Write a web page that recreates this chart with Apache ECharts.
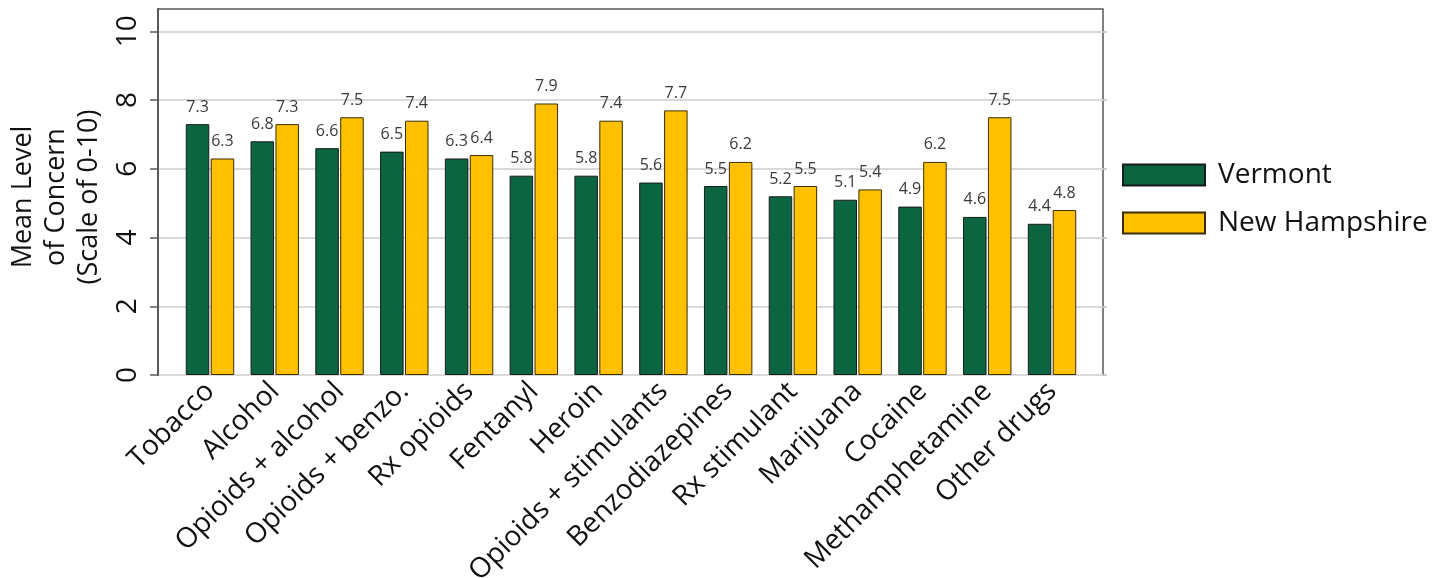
<!DOCTYPE html>
<html>
<head>
<meta charset="utf-8">
<script src="https://cdn.jsdelivr.net/npm/echarts@6/dist/echarts.min.js"></script>
<style>
  html, body { margin: 0; padding: 0; background: #fff; }
  #chart { width: 1437px; height: 578px; }
</style>
</head>
<body>
<div id="chart"></div>
<script>
// Mean level of concern by substance (scale 0-10)
const categories = ['Tobacco', 'Alcohol', 'Opioids + alcohol', 'Opioids + benzo.', 'Rx opioids', 'Fentanyl', 'Heroin',
  'Opioids + stimulants', 'Benzodiazepines', 'Rx stimulant', 'Marijuana', 'Cocaine', 'Methamphetamine', 'Other drugs'];
const vermont = [7.3, 6.8, 6.6, 6.5, 6.3, 5.8, 5.8, 5.6, 5.5, 5.2, 5.1, 4.9, 4.6, 4.4];
const newHampshire = [6.3, 7.3, 7.5, 7.4, 6.4, 7.9, 7.4, 7.7, 6.2, 5.5, 5.4, 6.2, 7.5, 4.8];
const yTicks = [0, 2, 4, 6, 8, 10];
const yMax = 10.65;

const FONT = "'Open Sans', 'Noto Sans', sans-serif";
const GREEN = '#0b6540';
const GOLD = '#ffc000';

const chart = echarts.init(document.getElementById('chart'), null, { renderer: 'canvas' });

const labelStyle = {
  show: true,
  position: 'top',
  distance: 9,
  fontFamily: FONT,
  fontSize: 16,
  color: '#3a3a3a',
  formatter: p => p.value.toFixed(1)
};

chart.setOption({
  animation: false,
  textStyle: { fontFamily: FONT },
  grid: [
    // frame, gridlines and value axis
    { left: 158, right: 334, top: 9, bottom: 203, outerBoundsMode: 'none', containLabel: false,
      show: true, borderColor: '#595959', borderWidth: 1.5 },
    // bar groups, inset from the frame
    { left: 177.6, right: 352.6, top: 9, bottom: 203, outerBoundsMode: 'none', containLabel: false }
  ],
  xAxis: [
    { gridIndex: 0, type: 'value', min: 0, max: 1, show: false },
    {
      gridIndex: 1, type: 'category', data: categories,
      axisLine: { show: false }, axisTick: { show: false },
      axisLabel: { interval: 0, rotate: 45, margin: 12, fontFamily: FONT, fontSize: 28, color: '#111' }
    }
  ],
  yAxis: [
    {
      gridIndex: 0, type: 'value', min: 0, max: yMax, interval: 2,
      name: 'Mean Level\nof Concern\n(Scale of 0-10)',
      nameLocation: 'middle', nameRotate: 90, nameGap: 46,
      nameTextStyle: { fontFamily: FONT, fontSize: 27, lineHeight: 33, color: '#111', align: 'center', padding: [0, 10, 0, 0] },
      axisLine: { show: true, lineStyle: { color: '#595959', width: 2 } },
      axisTick: { show: true, length: 8, customValues: yTicks, lineStyle: { color: '#595959', width: 1.5 } },
      axisLabel: { rotate: 90, margin: 16, fontFamily: FONT, fontSize: 28, color: '#111', customValues: yTicks },
      splitLine: { show: true, lineStyle: { color: '#d9d9d9', width: 2 } }
    },
    {
      gridIndex: 0, type: 'value', position: 'right', min: 0, max: yMax, interval: 2,
      axisLine: { show: false },
      axisTick: { show: true, length: 4, customValues: yTicks, lineStyle: { color: '#bfbfbf', width: 1.5 } },
      axisLabel: { show: false }, splitLine: { show: false }
    },
    { gridIndex: 1, type: 'value', min: 0, max: yMax, show: false }
  ],
  legend: {
    orient: 'vertical', left: 1122, top: 161, padding: 0,
    itemWidth: 82, itemHeight: 21, itemGap: 20,
    icon: 'rect',
    textStyle: { fontFamily: FONT, fontSize: 28, color: '#111', padding: [0, 0, 0, 8] },
    data: ['Vermont', 'New Hampshire']
  },
  series: [
    {
      name: 'Vermont', type: 'bar', xAxisIndex: 1, yAxisIndex: 2,
      data: vermont, barWidth: 23.5, barGap: '6%',
      itemStyle: { color: GREEN, borderColor: '#1a1a1a', borderWidth: 1 },
      label: labelStyle
    },
    {
      name: 'New Hampshire', type: 'bar', xAxisIndex: 1, yAxisIndex: 2,
      data: newHampshire, barWidth: 23.5, barGap: '6%',
      itemStyle: { color: GOLD, borderColor: '#3a2e00', borderWidth: 1 },
      label: labelStyle
    }
  ]
});
</script>
</body>
</html>
